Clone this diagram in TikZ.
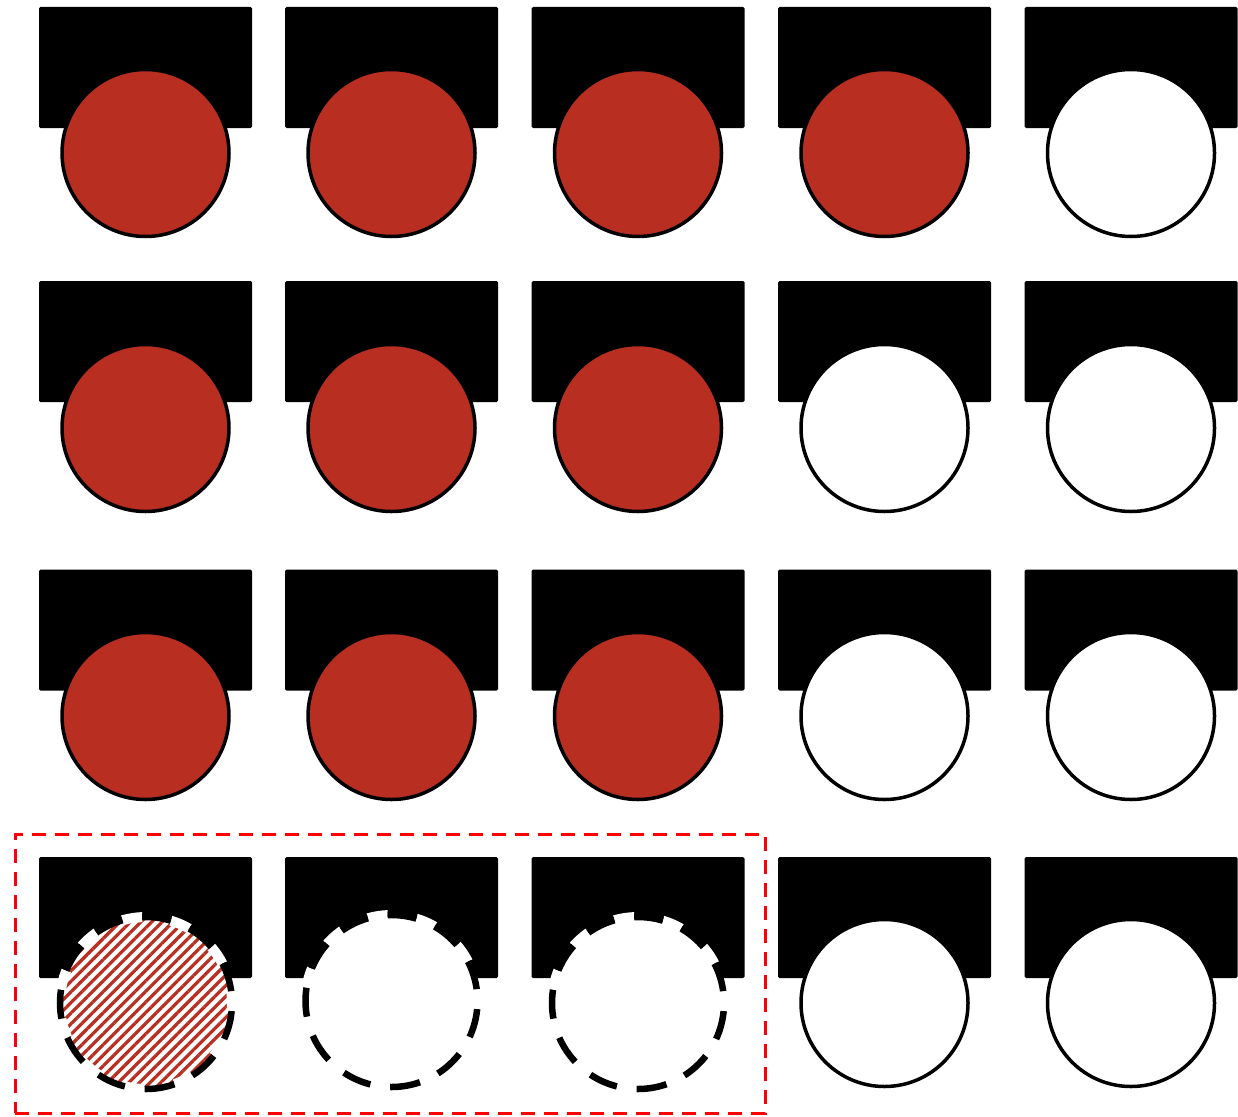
\documentclass[tikz,border=0pt]{standalone}
\usetikzlibrary{patterns.meta}
\definecolor{brick}{HTML}{B82E20}
\tikzset{
  x=1pt, y=-1pt,
  rect/.style={fill=black, draw=none, rounded corners=1.5pt, minimum width=213pt, minimum height=121pt, inner sep=0pt},
  disc/.style={circle, draw=black, line width=3.5pt, minimum size=167pt, inner sep=0pt},
  reddisc/.style={disc, fill=brick},
  whitedisc/.style={disc, fill=white},
  hatchdisc/.style={circle, minimum size=168pt, inner sep=0pt, outer sep=0pt, draw=none, fill=white,
    postaction={pattern={Lines[angle=45,distance=7.5pt,line width=3.2pt]}, pattern color=brick}},
  plaindisc/.style={circle, minimum size=168pt, inner sep=0pt, outer sep=0pt, draw=none, fill=white},
  gapring/.style={draw=white, line width=10pt, dash pattern=on 20pt off 29pt, dash phase=-29pt},
  dashring/.style={draw=black, line width=6.5pt, dash pattern=on 29pt off 20pt},
  selbox/.style={draw=red, line width=3pt, dash pattern=on 14pt off 9pt}
}
\begin{document}
\begin{tikzpicture}
\useasboundingbox (0,0) rectangle (1238,1116);
% rectangles
\foreach \c/\x in {1/145.5,2/391.5,3/638,4/884.5,5/1131}{
  \foreach \r/\y in {1/67.5,2/341.5,3/630,4/917.5}{
    \node[rect] (r\r\c) at (\x,\y) {};
  }
}
% row 1
\node[reddisc] (c11) at (145.5,153) {};
\node[reddisc] (c12) at (391.5,153) {};
\node[reddisc] (c13) at (638,153) {};
\node[reddisc] (c14) at (884.5,153) {};
\node[whitedisc] (c15) at (1131,153) {};
% row 2
\node[reddisc] (c21) at (145.5,428) {};
\node[reddisc] (c22) at (391.5,428) {};
\node[reddisc] (c23) at (638,428) {};
\node[whitedisc] (c24) at (884.5,428) {};
\node[whitedisc] (c25) at (1131,428) {};
% row 3
\node[reddisc] (c31) at (145.5,716) {};
\node[reddisc] (c32) at (391.5,716) {};
\node[reddisc] (c33) at (638,716) {};
\node[whitedisc] (c34) at (884.5,716) {};
\node[whitedisc] (c35) at (1131,716) {};
% row 4
\node[hatchdisc] (c41) at (146,1003) {};
\node[plaindisc] (c42) at (391.5,1001) {};
\node[plaindisc] (c43) at (638,1003) {};
\foreach \n in {c41,c42,c43}{
  \draw[gapring] (\n.center) ++(0,86) arc (-90:270:86pt);
  \draw[dashring] (\n.center) ++(0,86) arc (-90:270:86pt);
}
\node[whitedisc] (c44) at (884.5,1003) {};
\node[whitedisc] (c45) at (1131,1003) {};
% selection box
\node[selbox, minimum width=750pt, minimum height=279pt, inner sep=0pt] (sel) at (390,973.5) {};
\end{tikzpicture}
\end{document}
